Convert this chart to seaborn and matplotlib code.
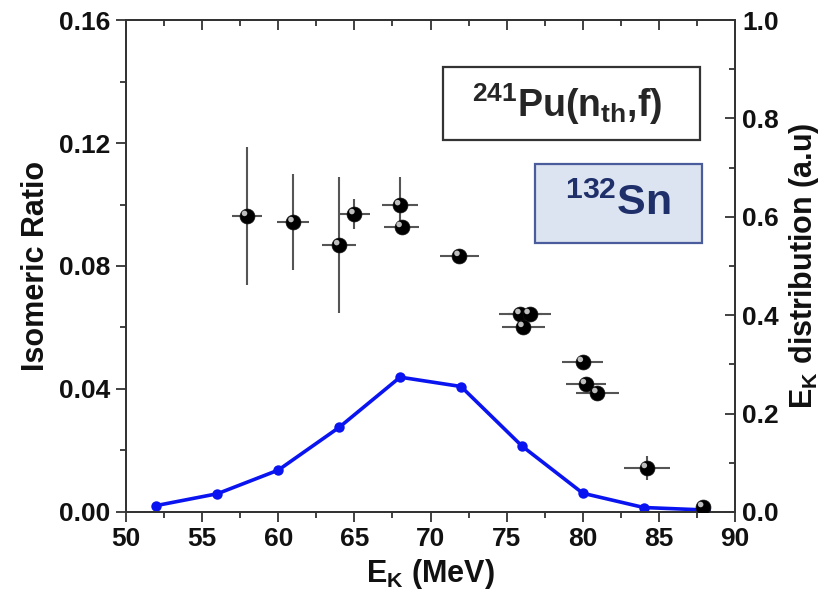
import numpy as np
import pandas as pd
import matplotlib
matplotlib.use("Agg")
import matplotlib.pyplot as plt
import matplotlib.transforms as mtransforms
from matplotlib.patches import Rectangle
from matplotlib.ticker import MultipleLocator
import seaborn as sns

# ---- data ----
ek_ir = [57.95, 61.0, 64.0, 65.0, 68.0, 68.1, 71.9, 75.9, 76.5, 76.1, 80.0, 80.2, 80.95, 84.2, 87.9]
ir = [0.0963, 0.0943, 0.0868, 0.0969, 0.0998, 0.0927, 0.0833, 0.0644, 0.0644, 0.0602, 0.0488, 0.0416, 0.0387, 0.0143, 0.0016]
ir_err = [0.0225, 0.0155, 0.022, 0.005, 0.009, 0.0, 0.0, 0.0, 0.0, 0.0, 0.0, 0.0, 0.0, 0.004, 0.0]
ek_err = [1.0, 1.05, 1.1, 1.05, 1.2, 1.15, 1.3, 1.4, 1.4, 1.4, 1.35, 1.3, 1.4, 1.5, 0.0]

ek_dist = [52, 56, 60, 64, 68, 72, 76, 80, 84, 88]
dist = [0.013, 0.037, 0.085, 0.172, 0.274, 0.255, 0.134, 0.038, 0.009, 0.004]

left_ticks = [0.0, 0.04, 0.08, 0.12, 0.16]
left_ticklabels = ["0.00", "0.04", "0.08", "0.12", "0.16"]
right_ticks = [0.0, 0.2, 0.4, 0.6, 0.8, 1.0]
right_ticklabels = ["0.0", "0.2", "0.4", "0.6", "0.8", "1.0"]

df_ir = pd.DataFrame({"EK": ek_ir, "IR": ir})
df_d = pd.DataFrame({"EK": ek_dist, "D": dist})

sns.set_style("ticks")
plt.rcParams["font.family"] = ["Liberation Sans", "DejaVu Sans"]
plt.rcParams["font.weight"] = "bold"
plt.rcParams["text.color"] = "#111111"
plt.rcParams["axes.labelcolor"] = "#111111"
plt.rcParams["xtick.labelcolor"] = "#111111"
plt.rcParams["ytick.labelcolor"] = "#111111"
plt.rcParams["mathtext.fontset"] = "custom"
plt.rcParams["mathtext.rm"] = "Liberation Sans:bold"
plt.rcParams["mathtext.it"] = "Liberation Sans:bold"
plt.rcParams["mathtext.bf"] = "Liberation Sans:bold"
plt.rcParams["mathtext.sf"] = "Liberation Sans"
plt.rcParams["mathtext.default"] = "rm"

TICK_FS = 19
LABEL_FS = 22

fig = plt.figure(figsize=(8.26, 6.08), dpi=100)
ax = fig.add_axes([0.1525, 0.158, 0.7375, 0.809])
ax2 = ax.twinx()

spine_c = "#333333"

# right axis: distribution
sns.lineplot(data=df_d, x="EK", y="D", ax=ax2, color="#0a14f0", linewidth=2.6,
             marker="o", markersize=7.5, markeredgewidth=0, zorder=2)
ax2.set_ylim(0, 1.0)
ax2.yaxis.set_minor_locator(MultipleLocator(0.1))
ax2.set_yticks(right_ticks)
ax2.set_yticklabels(right_ticklabels)
ax2.tick_params(axis="y", which="both", direction="in", labelsize=TICK_FS, width=1.3,
                color=spine_c, labelcolor="#111111", pad=5)
ax2.tick_params(axis="y", which="major", length=7)
ax2.tick_params(axis="y", which="minor", length=4)
ax2.set_ylabel(r"E$_{\mathrm{K}}$ distribution (a.u)", fontsize=LABEL_FS, fontweight="bold",
               labelpad=6, color="#111111")

# left axis: isomeric ratio on top
ax.set_zorder(ax2.get_zorder() + 1)
ax.patch.set_visible(False)
ax.errorbar(ek_ir, ir, xerr=ek_err, yerr=ir_err, fmt="none", ecolor="#555555",
            elinewidth=1.5, capsize=0, zorder=3)
sns.scatterplot(data=df_ir, x="EK", y="IR", ax=ax, s=115, color="black",
                edgecolor="#111111", linewidth=0.5, zorder=4, legend=False)
hl = mtransforms.offset_copy(ax.transData, fig=fig, x=-1.8, y=1.8, units="points")
ax.scatter(ek_ir, ir, s=16, color="#bdbdbd", edgecolor="none", zorder=5, transform=hl)

ax.set_xlim(50, 90)
ax.set_ylim(0, 0.16)
ax.xaxis.set_major_locator(MultipleLocator(5))
ax.xaxis.set_minor_locator(MultipleLocator(2.5))
ax.yaxis.set_minor_locator(MultipleLocator(0.02))
ax.set_yticks(left_ticks)
ax.set_yticklabels(left_ticklabels)
ax.tick_params(axis="both", which="both", direction="out", labelsize=TICK_FS, width=1.3,
               color=spine_c, labelcolor="#111111", pad=4)
ax.tick_params(which="major", length=7)
ax.tick_params(which="minor", length=4)
ax.set_xlabel(r"E$_{\mathrm{K}}$ (MeV)", fontsize=LABEL_FS, fontweight="bold", labelpad=4,
              color="#111111")
ax.set_ylabel("Isomeric Ratio", fontsize=LABEL_FS, fontweight="bold", labelpad=6,
              color="#111111")

top = ax.secondary_xaxis("top")
top.xaxis.set_major_locator(MultipleLocator(5))
top.xaxis.set_minor_locator(MultipleLocator(2.5))
top.tick_params(which="both", direction="in", labeltop=False, width=1.3, color=spine_c)
top.tick_params(which="major", length=7)
top.tick_params(which="minor", length=4)

for a in (ax, ax2):
    for s in a.spines.values():
        s.set_visible(True)
        s.set_linewidth(1.3)
        s.set_color(spine_c)
top.spines["top"].set_linewidth(1.3)
top.spines["top"].set_color(spine_c)

for lab in ax.get_xticklabels() + ax.get_yticklabels() + ax2.get_yticklabels():
    lab.set_fontweight("bold")

# annotation boxes
ax.add_patch(Rectangle((0.5205, 0.756), 0.422, 0.1485, transform=ax.transAxes,
                       facecolor="white", edgecolor="#333333", linewidth=1.6, zorder=6))
ax.text(0.724, 0.829, r"$^{\mathsf{241}}$Pu(n$_{\mathrm{th}}$,f)", transform=ax.transAxes,
        fontsize=27, fontweight="bold", color="#262626", ha="center", va="center", zorder=7)
ax.add_patch(Rectangle((0.6716, 0.5467), 0.2742, 0.1606, transform=ax.transAxes,
                       facecolor="#dce3f1", edgecolor="#4a5c9c", linewidth=1.6, zorder=6))
ax.text(0.807, 0.627, r"$^{132}$Sn", transform=ax.transAxes,
        fontsize=31, fontweight="bold", color="#1f2f6a", ha="center", va="center", zorder=7)

fig.savefig("out.png", dpi=100)
